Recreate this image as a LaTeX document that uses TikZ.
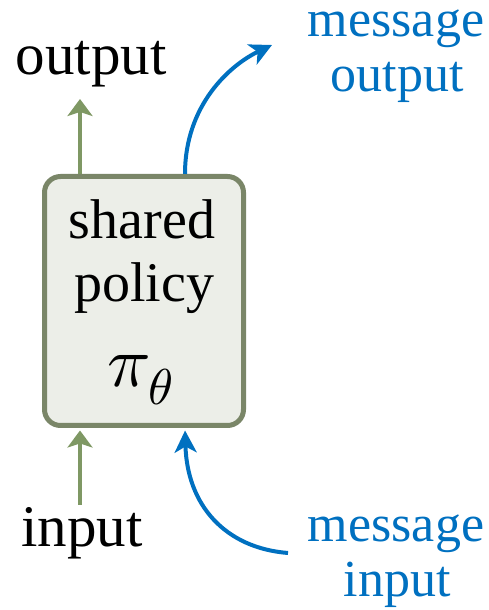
\documentclass[tikz,border=0pt]{standalone}
\usepackage{fontspec}
\usepackage{unicode-math}
\setmainfont{Liberation Serif}
\setmathfont{Latin Modern Math}
\usetikzlibrary{arrows.meta}
\definecolor{boxgreen}{HTML}{7A8668}
\definecolor{boxfill}{HTML}{ECEEE8}
\definecolor{arrgreen}{HTML}{7F9864}
\definecolor{msgblue}{HTML}{0070C0}

\begin{document}
\begin{tikzpicture}[x=1pt,y=1pt]
\tikzstyle{policybox}=[rectangle,draw=boxgreen,fill=boxfill,line width=5pt,rounded corners=16pt,minimum width=199pt,minimum height=249pt]
\tikzstyle{boxtext}=[inner sep=0pt,anchor=base,font=\fontsize{56}{56}\selectfont]
\tikzstyle{io}=[inner sep=0pt,anchor=base,font=\fontsize{59}{59}\selectfont]
\tikzstyle{msg}=[inner sep=0pt,anchor=base,text=msgblue,font=\fontsize{52}{52}\selectfont]
\tikzstyle{flow}=[draw=arrgreen,line width=3.5pt,-{Stealth[length=17pt,width=25pt,inset=4pt]}]
\tikzstyle{msgflow}=[draw=msgblue,line width=4pt,-{Stealth[length=22pt,width=22pt,inset=6pt]}]
\useasboundingbox (0,0) rectangle (489,610);
\node [policybox] (policy) at (144,309) {};
\node [boxtext] (shared) at (142,371) {shared};
\node [boxtext] (pol) at (144,308) {policy};
\node [boxtext,font=\fontsize{72}{72}\selectfont] (pi) at (140,223) {$\pi_\theta$};
\node [io] (out) at (91,535) {output};
\node [io] (in) at (82,63) {input};
\node [msg] (msgout1) at (396,573) {message};
\node [msg] (msgout2) at (397,518) {output};
\node [msg] (msgin1) at (396,68) {message};
\node [msg] (msgin2) at (397,13) {input};
% arrow ends
\coordinate (gout) at (80,511);
\coordinate (gin) at (80,105);
\coordinate (bx) at (185,0);
\coordinate (mout) at (272,565);
\coordinate (min) at (288,57);
\draw [flow] (gout |- policy.north) -- (gout);
\draw [flow,shorten >=2.5pt] (gin) -- (gin |- policy.south);
\draw [msgflow] (bx |- policy.north) .. controls (185,505) and (230,545) .. (mout);
\draw [msgflow,shorten >=2.5pt] (min) .. controls (225,62) and (187,105) .. (bx |- policy.south);
\end{tikzpicture}
\end{document}
